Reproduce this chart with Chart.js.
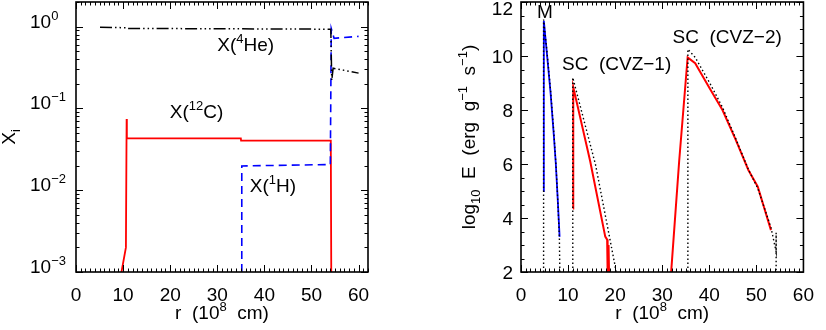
<!DOCTYPE html>
<html>
<head>
<meta charset="utf-8">
<script src="https://cdn.jsdelivr.net/npm/chart.js@4.4.1/dist/chart.umd.min.js"></script>
<style>
  html, body { margin: 0; padding: 0; background: #fff; }
  #wrap { position: relative; width: 826px; height: 330px; }
  .pane { position: absolute; top: 0; width: 413px; height: 330px; }
</style>
</head>
<body>
<div id="wrap">
  <div class="pane" style="left:0"><canvas id="abund" width="413" height="330"></canvas></div>
  <div class="pane" style="left:413px"><canvas id="energy" width="413" height="330"></canvas></div>
</div>
<script>
// left panel: mass fractions vs r (10^8 cm)
const he4R = [5.1, 10.7, 10.8, 35, 54.1, 54.3, 54.6, 60];
const he4X = [0.98, 0.97, 0.95, 0.94, 0.93, 0.22, 0.31, 0.27];
const h1R = [35.2, 35.2, 54.0, 54.2, 54.8, 60];
const h1X = [0.001, 0.0198, 0.0206, 0.95, 0.72, 0.76];
const c12R = [9.66, 10.6, 10.75, 10.8, 35, 35.05, 54.1, 54.2];
const c12X = [0.001, 0.002, 0.074, 0.043, 0.043, 0.0404, 0.0404, 0.001];

// right panel: log10 E vs r, simulation (solid) and model (dotted)
const mR = [4.77, 4.85, 5.5, 6.3, 7.0, 7.4, 7.8, 8.2];
const mE = [5.0, 11.3, 10.1, 8.6, 7.0, 6.0, 4.7, 3.3];
const cvz1R = [11.05, 11.1, 14.7, 17.9, 18.3, 18.4, 18.6, 18.7];
const cvz1E = [4.35, 8.85, 6.1, 3.31, 3.2, 2.0, 3.0, 2.0];
const cvz2R = [31.9, 33.6, 35.4, 37.0, 40.1, 42.8, 45.6, 48.3, 50.3, 53.1];
const cvz2E = [2.0, 6.1, 9.95, 9.73, 8.8, 8.0, 6.9, 5.78, 5.16, 3.55];
const mModR = [4.8, 4.8, 5.5, 6.3, 7.0, 7.45, 7.8, 8.15, 8.25];
const mModE = [2.0, 11.35, 10.2, 8.7, 7.1, 5.9, 4.7, 3.3, 2.0];
const cvz1ModR = [11.0, 11.0, 15.85, 19.95, 20.2];
const cvz1ModE = [2.0, 9.2, 5.96, 2.26, 2.0];
const cvz2ModR = [35.45, 35.45, 37.0, 40.1, 42.8, 45.6, 48.3, 50.3, 53.1, 54.2, 54.2, 54.2];
const cvz2ModE = [2.0, 10.25, 9.95, 9.0, 8.1, 6.95, 5.8, 5.1, 3.65, 2.75, 3.45, 2.0];

// ticks
const abundXTicks = [0, 10, 20, 30, 40, 50, 60];
const abundYTicks = [0.001, 0.01, 0.1, 1];
const abundYLabels = ['10^{\u22123}', '10^{\u22122}', '10^{\u22121}', '10^{0}'];
const energyXTicks = [0, 10, 20, 30, 40, 50, 60];
const energyYTicks = [2, 4, 6, 8, 10, 12];

const FONT = '"Liberation Sans", Arial, sans-serif';
Chart.defaults.font.family = FONT;
Chart.defaults.font.size = 19;
Chart.defaults.color = '#000';

function pts(xs, ys) { return xs.map((x, i) => ({ x: x, y: ys[i] })); }

// "X(^{4}He)" -> parts with sup / sub
function parseRich(s) {
  const parts = [];
  const re = /([\^_])\{([^}]*)\}|([^\^_]+)/g;
  let m;
  while ((m = re.exec(s))) {
    if (m[3]) parts.push({ t: m[3] });
    else parts.push({ t: m[2], v: m[1] === '^' ? 'sup' : 'sub' });
  }
  return parts;
}

function drawRich(ctx, str, x, y, align) {
  const parts = parseRich(str);
  let w = 0;
  parts.forEach(p => {
    ctx.font = (p.v ? 13 : 19) + 'px ' + FONT;
    p.w = ctx.measureText(p.t).width;
    w += p.w;
  });
  let cx = align === 'center' ? x - w / 2 : align === 'right' ? x - w : x;
  ctx.textAlign = 'left';
  ctx.textBaseline = 'alphabetic';
  ctx.fillStyle = '#000';
  parts.forEach(p => {
    ctx.font = (p.v ? 13 : 19) + 'px ' + FONT;
    const dy = p.v === 'sup' ? -8 : p.v === 'sub' ? 5 : 0;
    ctx.fillText(p.t, cx, y + dy);
    cx += p.w;
  });
}

// frame with inward ticks on all four sides, y labels, titles, annotations
const decor = {
  id: 'decor',
  afterDatasetsDraw(chart, args, o) {
    const { ctx, chartArea: a, scales } = chart;
    const xs = scales.x, ys = scales.y;
    ctx.save();
    ctx.strokeStyle = '#000';
    ctx.lineWidth = 1;
    ctx.beginPath();
    const xt = (v, len) => {
      const p = Math.round(xs.getPixelForValue(v)) + 0.5;
      ctx.moveTo(p, a.bottom); ctx.lineTo(p, a.bottom - len);
      ctx.moveTo(p, a.top); ctx.lineTo(p, a.top + len);
    };
    const yt = (v, len) => {
      const p = Math.round(ys.getPixelForValue(v)) + 0.5;
      ctx.moveTo(a.left, p); ctx.lineTo(a.left + len, p);
      ctx.moveTo(a.right, p); ctx.lineTo(a.right - len, p);
    };
    o.xMinor.forEach(v => xt(v, 3.5));
    o.xMajor.forEach(v => xt(v, 7));
    o.yMinor.forEach(v => yt(v, 3.5));
    o.yMajor.forEach(v => yt(v, 7));
    ctx.stroke();
    ctx.lineWidth = 1.6;
    ctx.strokeRect(a.left, a.top, a.right - a.left, a.bottom - a.top);

    // y tick labels
    o.yMajor.forEach((v, i) => {
      const p = ys.getPixelForValue(v);
      if (o.yLabelLeft != null) {
        drawRich(ctx, o.yLabels[i], a.left - o.yLabelLeft, p + 1, 'left');
      } else {
        drawRich(ctx, o.yLabels[i], a.left - 8, Math.max(p + 7, 15), 'right');
      }
    });

    // axis titles
    drawRich(ctx, o.xTitle, (a.left + a.right) / 2, 319, 'center');
    ctx.save();
    ctx.translate(o.yTitleX, (a.top + a.bottom) / 2);
    ctx.rotate(-Math.PI / 2);
    drawRich(ctx, o.yTitle, 0, 0, 'center');
    ctx.restore();

    // annotations (data coordinates)
    o.notes.forEach(n => {
      drawRich(ctx, n.text, xs.getPixelForValue(n.x), ys.getPixelForValue(n.y), n.align || 'left');
    });
    ctx.restore();
  }
};

function range(a, b, s) { const r = []; for (let v = a; v <= b + 1e-9; v += s) r.push(+v.toFixed(3)); return r; }
const logMinor = [];
[0.001, 0.01, 0.1, 1].forEach(d => { for (let k = 2; k <= 9; k++) if (d * k <= 2) logMinor.push(d * k); });

function xScale(max, ticks) {
  return {
    type: 'linear', min: 0, max: max,
    afterBuildTicks: s => { s.ticks = ticks.map(v => ({ value: v })); },
    afterFit: s => { s.height = 58; },
    grid: { display: false, drawTicks: false },
    border: { display: false },
    ticks: { padding: 12, maxRotation: 0, autoSkip: false, font: { size: 19 } }
  };
}

new Chart(document.getElementById('abund'), {
  type: 'line',
  data: {
    datasets: [
      { data: pts(he4R, he4X), borderColor: '#000', borderWidth: 1.5, borderDash: [12, 3, 1.5, 3, 1.5, 3, 1.5, 3] },
      { data: pts(h1R, h1X), borderColor: '#0000ff', borderWidth: 1.6, borderDash: [8, 5] },
      { data: pts(c12R, c12X), borderColor: '#ff0000', borderWidth: 1.8 }
    ]
  },
  options: {
    responsive: false, animation: false,
    layout: { padding: { left: 76, right: 45, top: 2, bottom: 0 } },
    elements: { point: { radius: 0 }, line: { tension: 0 } },
    plugins: {
      legend: { display: false }, tooltip: { enabled: false },
      decor: {
        xMajor: abundXTicks, xMinor: range(0, 62, 1),
        yMajor: abundYTicks, yMinor: logMinor, yLabels: abundYLabels, yLabelLeft: 46,
        xTitle: 'r  (10^{8}  cm)', yTitle: 'X_{i}', yTitleX: 15,
        notes: [
          { text: 'X(^{4}He)', x: 30.0, y: 0.505 },
          { text: 'X(^{12}C)', x: 19.9, y: 0.077 },
          { text: 'X(^{1}H)', x: 36.9, y: 0.0096 }
        ]
      }
    },
    scales: {
      x: xScale(62, abundXTicks),
      y: { type: 'logarithmic', min: 0.001, max: 2, display: false }
    }
  },
  plugins: [decor]
});

const dotted = { borderColor: '#000', borderWidth: 1.4, borderDash: [1.5, 2.5] };
new Chart(document.getElementById('energy'), {
  type: 'line',
  data: {
    datasets: [
      Object.assign({ data: pts(mModR, mModE) }, dotted),
      Object.assign({ data: pts(cvz1ModR, cvz1ModE) }, dotted),
      Object.assign({ data: pts(cvz2ModR, cvz2ModE) }, dotted),
      { data: pts(mR, mE), borderColor: '#0000ff', borderWidth: 1.8 },
      { data: pts(cvz1R, cvz1E), borderColor: '#ff0000', borderWidth: 2 },
      { data: pts(cvz2R, cvz2E), borderColor: '#ff0000', borderWidth: 2 }
    ]
  },
  options: {
    responsive: false, animation: false,
    layout: { padding: { left: 108, right: 12, top: 2, bottom: 0 } },
    elements: { point: { radius: 0 }, line: { tension: 0 } },
    plugins: {
      legend: { display: false }, tooltip: { enabled: false },
      decor: {
        xMajor: energyXTicks, xMinor: range(0, 60, 1),
        yMajor: energyYTicks, yMinor: range(2, 12, 0.5), yLabels: energyYTicks.map(String),
        xTitle: 'r  (10^{8}  cm)', yTitle: 'log_{10}  E  (erg  g^{\u22121}  s^{\u22121})', yTitleX: 62,
        notes: [
          { text: 'M', x: 5.1, y: 11.4, align: 'center' },
          { text: 'SC  (CVZ\u22121)', x: 8.7, y: 9.48 },
          { text: 'SC  (CVZ\u22122)', x: 32.2, y: 10.48 }
        ]
      }
    },
    scales: {
      x: xScale(60, energyXTicks),
      y: { type: 'linear', min: 2, max: 12, display: false }
    }
  },
  plugins: [decor]
});
</script>
</body>
</html>
